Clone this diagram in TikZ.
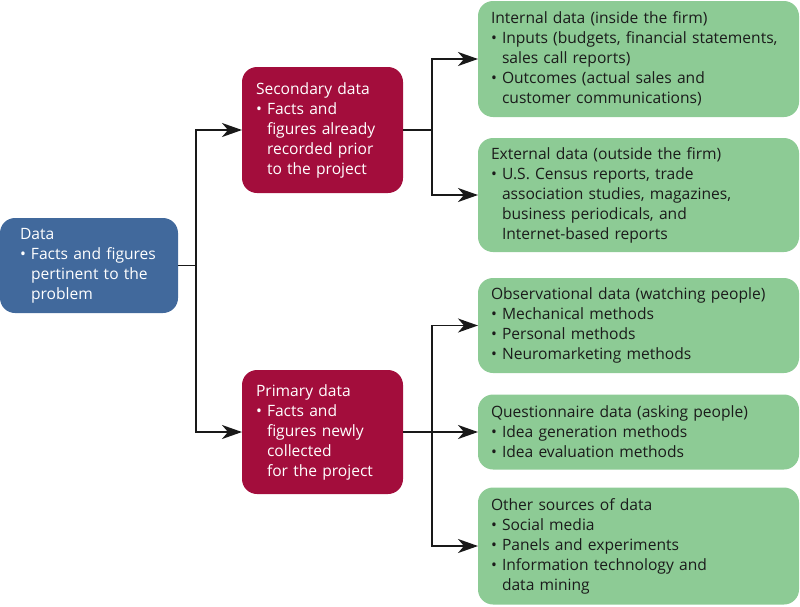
\documentclass[tikz,border=0pt]{standalone}
\usepackage{fontspec}
\setmainfont{Open Sans}
\usetikzlibrary{arrows.meta}

\definecolor{datablue}{HTML}{41699C}
\definecolor{datared}{HTML}{A30D3C}
\definecolor{datagreen}{HTML}{8DCB95}
\definecolor{inktext}{HTML}{1B1B1B}

% bullet item with hanging indent
\newcommand{\itm}[1]{\par\hangindent=11pt\hangafter=1\makebox[11pt][l]{\textbullet}#1\par}

\tikzset{
  box/.style={rounded corners=15pt, inner sep=0pt, outer sep=0pt,
    font=\fontsize{15.6}{20}\selectfont, align=left},
  rootbox/.style={box, fill=datablue, text=white, inner xsep=20pt, text width=138pt},
  midbox/.style={box, fill=datared, text=white, inner xsep=14pt, text width=133pt},
  leafbox/.style={box, fill=datagreen, text=inktext, inner xsep=13pt, text width=295pt},
  conn/.style={line width=1.8pt, draw=black!90},
  arr/.style={conn, -{Stealth[length=20pt, width=14pt, inset=6pt]}}
}

\begin{document}
\begin{tikzpicture}[x=1pt, y=-1pt]
\useasboundingbox (0,0) rectangle (800,606);

% root node
\node[rootbox, minimum width=178pt, minimum height=95pt] (data) at (89,265.5)
  {Data\itm{Facts and figures\newline pertinent to the\newline problem}};

% second level
\node[midbox, minimum width=161pt, minimum height=126pt] (sec) at (322.5,130)
  {Secondary data\itm{Facts and\newline figures already\newline recorded prior\newline to the project}};
\node[midbox, minimum width=161pt, minimum height=124pt] (prim) at (322.5,432)
  {Primary data\itm{Facts and\newline figures newly\newline collected\newline for the project}};

% third level
\node[leafbox, minimum width=321pt, minimum height=116pt] (int) at (638.5,59)
  {Internal data (inside the firm)\itm{Inputs (budgets, financial statements,\newline sales call reports)}\itm{Outcomes (actual sales and\newline customer communications)}};
\node[leafbox, minimum width=321pt, minimum height=114pt] (ext) at (638.5,195)
  {External data (outside the firm)\itm{U.S. Census reports, trade\newline association studies, magazines,\newline business periodicals, and\newline Internet-based reports}};
\node[leafbox, minimum width=321pt, minimum height=95pt] (obs) at (638.5,325.5)
  {Observational data (watching people)\itm{Mechanical methods}\itm{Personal methods}\itm{Neuromarketing methods}};
\node[leafbox, minimum width=321pt, minimum height=75pt] (que) at (638.5,432)
  {Questionnaire data (asking people)\itm{Idea generation methods}\itm{Idea evaluation methods}};
\node[leafbox, minimum width=321pt, minimum height=117pt] (oth) at (638.5,546)
  {Other sources of data\itm{Social media}\itm{Panels and experiments}\itm{Information technology and\newline data mining}};

% junction columns
\coordinate (jd) at (196,0);
\coordinate (js) at (432,0);

% connectors
\draw[conn] (data.east) -- (jd |- data.east);
\draw[arr] (jd |- data.east) |- (sec.west);
\draw[arr] (jd |- data.east) |- (prim.west);

\draw[conn] (sec.east) -- (js |- sec.east);
\draw[arr] (js |- sec.east) |- (int.west);
\draw[arr] (js |- sec.east) |- (ext.west);

\draw[arr] (prim.east) -- (que.west);
\draw[arr] (js |- prim.east) |- (obs.west);
\draw[arr] (js |- prim.east) |- (oth.west);
\end{tikzpicture}
\end{document}
